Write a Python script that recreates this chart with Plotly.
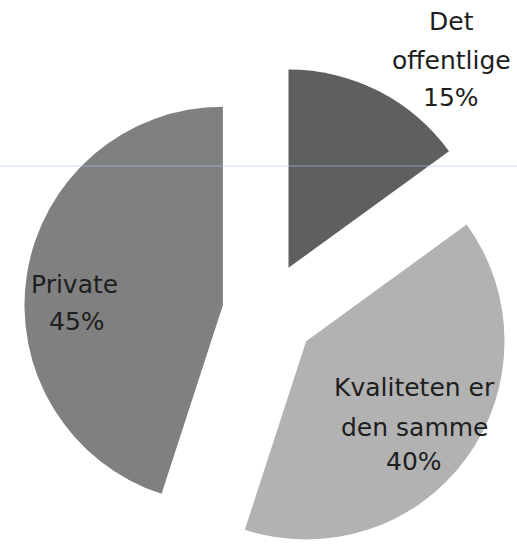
import plotly.graph_objects as go

# ---- data ----
labels = ["Det offentlige", "Kvaliteten er den samme", "Private"]
values = [15, 40, 45]
label_lines = [["Det", "offentlige"], ["Kvaliteten er", "den samme"], ["Private"]]
colors = ["#5f5f5f", "#b2b2b2", "#808080"]
pulls = [0.25, 0.25, 0.22]

W, H = 517, 560
ML, MR, MT, MB = 15, 0, 64, 0
PW, PH = W - ML - MR, H - MT - MB


def px(x, y):
    return (x - ML) / PW, 1 - (y - MT) / PH


fig = go.Figure(
    go.Pie(
        labels=labels,
        values=values,
        sort=False,
        direction="clockwise",
        rotation=0,
        pull=pulls,
        marker=dict(colors=colors, line=dict(width=0)),
        textinfo="none",
        hoverinfo="label+percent",
        showlegend=False,
    )
)

# label positions (pixel centres of each line)
label_pos = [
    [(451, 22), (451, 61), (451, 97)],
    [(414, 387), (414, 427), (414, 461)],
    [(74, 284), (77, 321)],
]

annotations = []
total = sum(values)
for lines, val, pos in zip(label_lines, values, label_pos):
    texts = lines + [f"{round(val / total * 100)}%"]
    for t, (x, y) in zip(texts, pos):
        xp, yp = px(x, y)
        annotations.append(
            dict(
                text=t, x=xp, y=yp, xref="paper", yref="paper",
                showarrow=False, xanchor="center", yanchor="middle",
                font=dict(family="DejaVu Sans", size=25, color="#1e1e1e"),
            )
        )

fig.update_layout(
    width=W,
    height=H,
    margin=dict(l=ML, r=MR, t=MT, b=MB),
    paper_bgcolor="white",
    plot_bgcolor="white",
    annotations=annotations,
    shapes=[
        dict(
            type="line", xref="paper", yref="paper",
            x0=px(0, 166)[0], x1=px(517, 166)[0],
            y0=px(0, 166)[1], y1=px(0, 166)[1],
            line=dict(color="rgba(175,200,228,0.6)", width=1),
            layer="above",
        )
    ],
)

fig.write_html(
    "out.html",
    config={"displayModeBar": False},
    post_script="document.body.style.margin='0'; document.body.style.overflow='hidden';",
)
